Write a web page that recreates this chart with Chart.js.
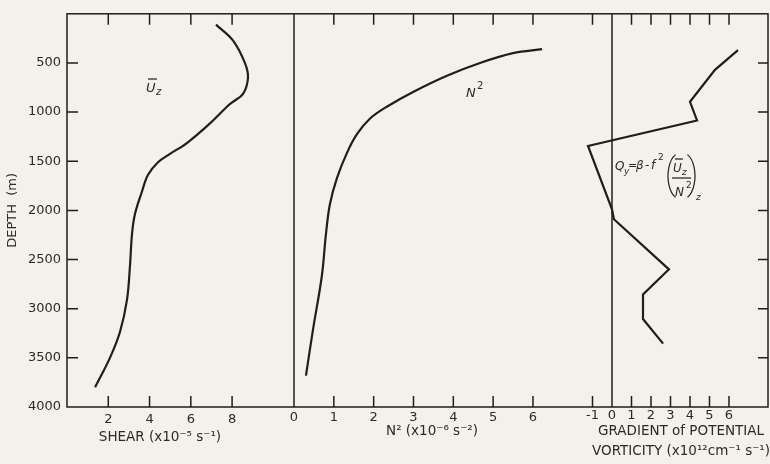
<!DOCTYPE html>
<html lang="en">
<head>
<meta charset="UTF-8" />
<title>Shear, N² and potential vorticity gradient vs depth</title>
<script src="https://cdn.jsdelivr.net/npm/chart.js"></script>
<style>
  body { margin: 0; background: #f3f1ea; }
  .wrap { position: relative; width: 770px; height: 464px; }
</style>
</head>
<body>
<div class="wrap"><canvas id="profiles"></canvas></div>
<script>
// mean shear U_z (x10^-5 s^-1) against depth (m)
const shearDepth = [110, 270, 500, 650, 815, 895, 945, 1115, 1315, 1425, 1510, 1640, 1810, 2040, 2240, 2570, 2905, 3235, 3500, 3800];
const shear      = [7.22, 8.04, 8.62, 8.77, 8.53, 8.04, 7.75, 6.93, 5.81, 4.99, 4.41, 3.92, 3.63, 3.29, 3.15, 3.05, 2.91, 2.57, 2.08, 1.36];

// N^2 (x10^-6 s^-2)
const n2Depth = [360, 400, 500, 630, 795, 945, 1065, 1225, 1415, 1670, 1940, 2250, 2665, 3205, 3680];
const n2      = [6.23, 5.5, 4.67, 3.84, 2.99, 2.33, 1.91, 1.58, 1.33, 1.08, 0.9, 0.8, 0.7, 0.48, 0.3];

// gradient of potential vorticity Q_y (x10^-12 cm^-1 s^-1)
const qyDepth = [370, 570, 895, 1085, 1345, 1990, 2090, 2600, 2855, 3105, 3355];
const qy      = [6.46, 5.28, 4.0, 4.36, -1.23, 0, 0.1, 2.92, 1.59, 1.59, 2.62];

const depthTicks = [500, 1000, 1500, 2000, 2500, 3000, 3500, 4000];
const shearTicks = [2, 4, 6, 8];
const n2Ticks = [0, 1, 2, 3, 4, 5, 6];
const qyTicks = [-1, 0, 1, 2, 3, 4, 5, 6];

const ink = '#1e1e1e';
const face = "'DejaVu Sans', sans-serif";
Chart.defaults.font.family = face;
Chart.defaults.color = '#2a2a2a';

const pts = (xs, ys) => xs.map((v, i) => ({ x: v, y: ys[i] }));
const fixTicks = vals => scale => { scale.ticks = vals.map(v => ({ value: v })); };

function xAxis(min, max, weight, vals, pad) {
  return {
    type: 'linear', position: 'bottom', stack: 'panels', stackWeight: weight,
    min: min, max: max,
    afterBuildTicks: fixTicks(vals),
    afterFit: s => { s.height = 57; },
    grid: { display: false, drawTicks: false },
    border: { display: false },
    ticks: { autoSkip: false, maxRotation: 0, padding: pad, font: { size: 13 }, callback: v => String(v) }
  };
}

function put(ctx, s, x, y, size, italic) {
  ctx.font = (italic ? 'italic ' : '') + size + 'px ' + face;
  ctx.fillText(s, x, y);
}

const framePlugin = {
  id: 'frame',
  afterDraw(chart) {
    const { ctx, chartArea: a, scales } = chart;
    ctx.save();
    ctx.strokeStyle = ink;
    ctx.fillStyle = ink;
    ctx.lineWidth = 1.5;
    ctx.strokeRect(a.left, a.top, a.right - a.left, a.bottom - a.top);

    // panel dividers at the zero of N^2 and Q_y
    [scales.x2, scales.x3].forEach(s => {
      const px = s.getPixelForValue(0);
      ctx.beginPath(); ctx.moveTo(px, a.top); ctx.lineTo(px, a.bottom); ctx.stroke();
    });

    // inward tick marks, top and bottom
    [[scales.x1, shearTicks], [scales.x2, n2Ticks], [scales.x3, qyTicks]].forEach(([s, vals]) => {
      vals.filter(v => v !== 0).forEach(v => {
        const px = s.getPixelForValue(v);
        ctx.beginPath();
        ctx.moveTo(px, a.bottom); ctx.lineTo(px, a.bottom - 11);
        ctx.moveTo(px, a.top); ctx.lineTo(px, a.top + 11);
        ctx.stroke();
      });
    });
    // inward tick marks, left and right
    depthTicks.filter(v => v < 4000).forEach(v => {
      const py = scales.y.getPixelForValue(v);
      ctx.beginPath();
      ctx.moveTo(a.left, py); ctx.lineTo(a.left + 11, py);
      ctx.moveTo(a.right, py); ctx.lineTo(a.right - 10, py);
      ctx.stroke();
    });

    // axis titles
    ctx.fillStyle = '#2a2a2a';
    ctx.textAlign = 'center';
    ctx.textBaseline = 'middle';
    ctx.font = '13.5px ' + face;
    ctx.fillText('SHEAR (x10⁻⁵ s⁻¹)', 160, 437);
    ctx.fillText('N² (x10⁻⁶ s⁻²)', 432, 431);
    ctx.fillText('GRADIENT of POTENTIAL', 681, 431);
    ctx.fillText('VORTICITY (x10¹²cm⁻¹ s⁻¹)', 681, 451);

    // curve labels
    ctx.textAlign = 'left';
    ctx.textBaseline = 'alphabetic';
    ctx.lineWidth = 1.2;
    put(ctx, 'U', 146, 92, 13, true);
    ctx.beginPath(); ctx.moveTo(148, 79); ctx.lineTo(157, 79); ctx.stroke();
    put(ctx, 'z', 156, 95, 10, true);

    put(ctx, 'N', 466, 97, 13, true);
    put(ctx, '2', 477, 89, 10, false);

    // Q_y = beta - f^2 (U_z / N^2)_z
    put(ctx, 'Q', 615, 170, 12, true);
    put(ctx, 'y', 624, 174, 9, true);
    put(ctx, '=', 628, 169, 11, false);
    put(ctx, 'β', 636, 169, 12, true);
    put(ctx, '-', 645, 169, 12, false);
    put(ctx, 'f', 651, 169, 12, true);
    put(ctx, '2', 658, 160, 9, false);
    ctx.beginPath(); ctx.ellipse(680, 176, 12, 23, 0, Math.PI * 0.62, Math.PI * 1.38); ctx.stroke();
    put(ctx, 'U', 673, 172, 12, true);
    ctx.beginPath(); ctx.moveTo(675, 159); ctx.lineTo(683, 159); ctx.stroke();
    put(ctx, 'z', 682, 175, 9, true);
    ctx.beginPath(); ctx.moveTo(672, 178); ctx.lineTo(691, 178); ctx.stroke();
    put(ctx, 'N', 675, 196, 12, true);
    put(ctx, '2', 686, 188, 9, false);
    ctx.beginPath(); ctx.ellipse(683, 176, 12, 23, 0, -Math.PI * 0.38, Math.PI * 0.38); ctx.stroke();
    put(ctx, 'z', 696, 200, 9, true);
    ctx.restore();
  }
};

const line = (data, xid, tension) => ({
  data: data, xAxisID: xid, yAxisID: 'y', showLine: true,
  borderColor: ink, borderWidth: 2.2, pointRadius: 0, tension: tension, fill: false
});

new Chart(document.getElementById('profiles'), {
  type: 'scatter',
  data: {
    datasets: [
      line(pts(shear, shearDepth), 'x1', 0.35),
      line(pts(n2, n2Depth), 'x2', 0.35),
      line(pts(qy, qyDepth), 'x3', 0)
    ]
  },
  options: {
    responsive: true,
    maintainAspectRatio: false,
    animation: false,
    layout: { padding: { left: 0, top: 5, right: 2, bottom: 0 } },
    plugins: { legend: { display: false }, tooltip: { enabled: false } },
    scales: {
      x1: xAxis(0, 11, 227, shearTicks, 5),
      x2: xAxis(0, 7.25, 288.75, n2Ticks, 3),
      x3: xAxis(-1.5, 8, 185.25, qyTicks, 1),
      y: {
        type: 'linear', position: 'left', reverse: true, min: 0, max: 4000,
        afterBuildTicks: fixTicks(depthTicks),
        afterFit: s => { s.width = 67; },
        grid: { display: false, drawTicks: false },
        border: { display: false },
        ticks: { autoSkip: false, padding: 6, font: { size: 13 }, callback: v => String(v) },
        title: { display: true, text: 'DEPTH  (m)', font: { size: 13 }, padding: { top: 5, bottom: 0 } }
      }
    }
  },
  plugins: [framePlugin]
});
</script>
</body>
</html>
